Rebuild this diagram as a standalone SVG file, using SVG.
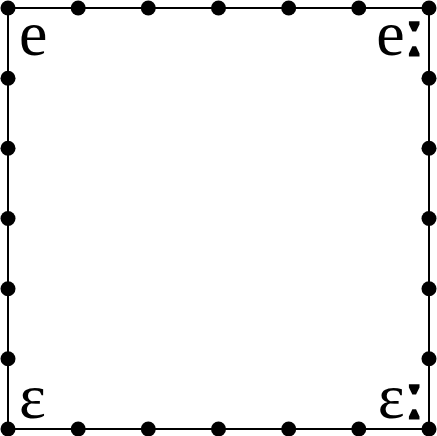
<svg xmlns="http://www.w3.org/2000/svg" width="437" height="436" viewBox="0 0 437 436">
<style>
.lbl{font-family:"Liberation Serif","Times New Roman",serif;font-size:64px;fill:#000}
.len{font-size:70px;stroke:#000;stroke-width:3;stroke-linejoin:miter}
.dot{fill:#000}
.edge{fill:none;stroke:#000;stroke-width:2}
</style>
<rect width="437" height="436" fill="#fff"/>
<g id="connectors">
<rect class="edge" x="8" y="8" width="421" height="421"/>
</g>
<g id="dots">
<circle class="dot" cx="8" cy="8" r="7.5"/>
<circle class="dot" cx="78.2" cy="8" r="7.5"/>
<circle class="dot" cx="148.3" cy="8" r="7.5"/>
<circle class="dot" cx="218.5" cy="8" r="7.5"/>
<circle class="dot" cx="288.7" cy="8" r="7.5"/>
<circle class="dot" cx="358.8" cy="8" r="7.5"/>
<circle class="dot" cx="429" cy="8" r="7.5"/>
<circle class="dot" cx="8" cy="429" r="7.5"/>
<circle class="dot" cx="78.2" cy="429" r="7.5"/>
<circle class="dot" cx="148.3" cy="429" r="7.5"/>
<circle class="dot" cx="218.5" cy="429" r="7.5"/>
<circle class="dot" cx="288.7" cy="429" r="7.5"/>
<circle class="dot" cx="358.8" cy="429" r="7.5"/>
<circle class="dot" cx="429" cy="429" r="7.5"/>
<circle class="dot" cx="8" cy="78.2" r="7.5"/>
<circle class="dot" cx="8" cy="148.3" r="7.5"/>
<circle class="dot" cx="8" cy="218.5" r="7.5"/>
<circle class="dot" cx="8" cy="288.7" r="7.5"/>
<circle class="dot" cx="8" cy="358.8" r="7.5"/>
<circle class="dot" cx="429" cy="78.2" r="7.5"/>
<circle class="dot" cx="429" cy="148.3" r="7.5"/>
<circle class="dot" cx="429" cy="218.5" r="7.5"/>
<circle class="dot" cx="429" cy="288.7" r="7.5"/>
<circle class="dot" cx="429" cy="358.8" r="7.5"/>
</g>
<g id="node-e"><text class="lbl" x="19" y="55">e</text></g>
<g id="node-e-long"><text class="lbl" x="424" y="55" text-anchor="end">e<tspan class="len">ː</tspan></text></g>
<g id="node-epsilon"><text class="lbl" x="19" y="418">ɛ</text></g>
<g id="node-epsilon-long"><text class="lbl" x="424" y="418" text-anchor="end">ɛ<tspan class="len">ː</tspan></text></g>
</svg>
